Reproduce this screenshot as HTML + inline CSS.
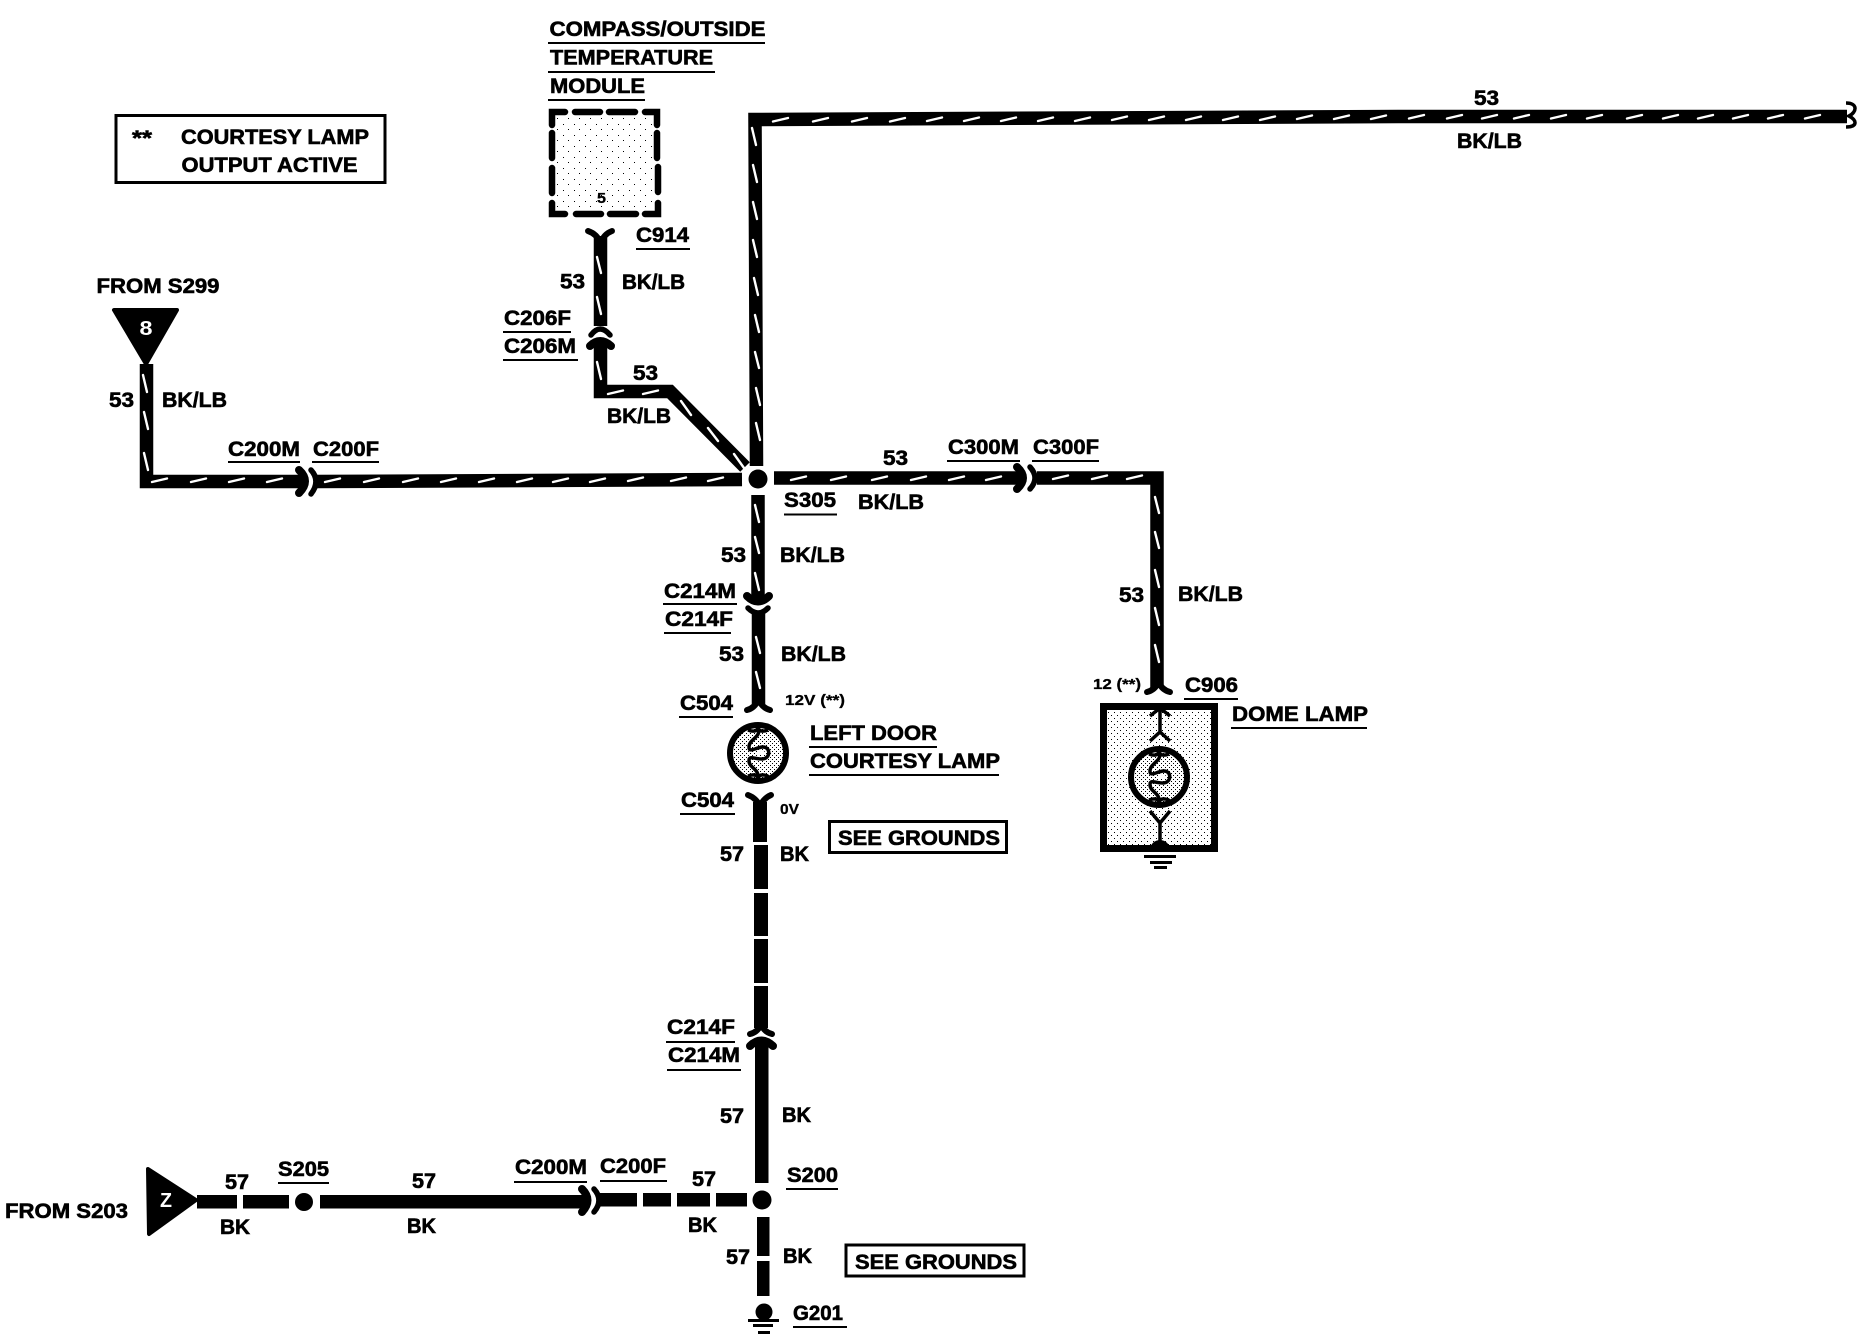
<!DOCTYPE html>
<html lang="en">
<head>
<meta charset="utf-8">
<title>Courtesy lamp wiring diagram</title>
<style>
html,body{margin:0;padding:0;background:#fff;width:1862px;height:1344px;overflow:hidden}
svg{display:block}
text{font-family:"Liberation Sans",Arial,sans-serif;font-weight:700;font-size:21px;fill:#000;stroke:#000;stroke-width:.6px}
.s{font-size:15px;stroke-width:.3px}
.w{fill:#fff;font-size:20px;stroke:none}
</style>
</head>
<body>
<svg xmlns="http://www.w3.org/2000/svg" width="1862" height="1344" viewBox="0 0 1862 1344">
<defs>
<pattern id="sp" width="6" height="6" patternUnits="userSpaceOnUse">
<rect width="6" height="6" fill="#fff"/>
<rect x="1" y="1" width="1" height="1" fill="#000"/>
<rect x="4" y="4" width="1" height="1" fill="#000"/>
</pattern>
<pattern id="sd" width="4" height="4" patternUnits="userSpaceOnUse">
<rect width="4" height="4" fill="#fff"/>
<rect x="0" y="0" width="1" height="1" fill="#000"/>
<rect x="2" y="2" width="1" height="1" fill="#000"/>
</pattern>
<pattern id="sl" width="11" height="11" patternUnits="userSpaceOnUse">
<rect width="11" height="11" fill="#fff"/>
<rect x="2" y="3" width="1" height="1" fill="#000"/>
<rect x="7" y="8" width="1" height="1" fill="#000"/>
</pattern>
<g id="lamp">
<circle r="28" fill="url(#sd)" stroke="#000" stroke-width="6"/>
<path d="M0 -25C4 -16 -9 -14 -9 -6C-9 0 -3 -5 4 -6C13 -7 13 6 4 6C-4 6 -9 2 -9 8C-9 15 2 16 0 26" fill="none" stroke="#000" stroke-width="3.5"/>
<ellipse cx="3" cy="0" rx="5" ry="2" fill="#fff"/>
<path d="M-10 -23Q-2 -20 0 -25Q2 -20 10 -23M-10 23Q-2 20 0 25Q2 20 10 23" fill="none" stroke="#000" stroke-width="3.5"/>
</g>
</defs>

<!-- legend -->
<rect x="116" y="115.5" width="269" height="67" fill="#fff" stroke="#000" stroke-width="3"/>

<!-- module -->
<rect x="555" y="115" width="100" height="97" fill="url(#sl)"/>
<path d="M552 125V112H565M575 112H600M609 112H635M645 112H657V125M552 133V158M552 168V193M657 133V158M658 167V192M552 203V214H565M576 214H601M610 214H636M645 214H658V203" fill="none" stroke="#000" stroke-width="6.5" stroke-linecap="round"/>

<!-- wires BK/LB -->
<g fill="none" stroke="#000" stroke-width="13.5">
<path d="M756.5 466L755 119.5 1400 116.5H1847" stroke-miterlimit="10"/>
<path d="M600.5 236V326"/>
<path d="M600.5 340V391.5H670L745 467" stroke-miterlimit="10"/>
<path d="M146.5 364V481.5H305"/>
<path d="M316 481.5L742 479.5"/>
<path d="M774 478H1023"/>
<path d="M1037 478H1157V688" stroke-miterlimit="10"/>
<path d="M758 495V602"/>
<path d="M758.5 612V704"/>
</g>

<!-- white tracers -->
<path fill="none" stroke="#fff" stroke-width="2.4" stroke-linecap="round" d="
M773 121.5l15 -3.5M813 121.5l15 -3.5M852 121.5l15 -3.5M890 121.5l15 -3.5M927 121l15 -3.5M964 121l15 -3.5M1001 121l15 -3.5M1038 121l15 -3.5M1075 121l15 -3.5M1112 120l15 -3.5M1149 120l15 -3.5M1186 120l15 -3.5M1223 120l15 -3.5M1260 120l15 -3.5M1297 119l15 -3.5M1334 119l15 -3.5M1371 119l15 -3.5M1409 118.5l15 -3.5M1447 118.5l15 -3.5M1482 118.5l15 -3.5M1514 118.5l15 -3.5M1551 118.5l15 -3.5M1587 118.5l15 -3.5M1627 118.5l15 -3.5M1663 118.5l15 -3.5M1698 118.5l15 -3.5M1733 118.5l15 -3.5M1768 118.5l15 -3.5M1805 118.5l15 -3.5
M752 128l4 17M753 165l4 17M753 202l4 17M753 240l4 17M754 278l4 17M755 315l4 17M755 352l4 16M756 388l4 17M756 423l4 17
M597 257l4 16M597 297l4 17M597 362l4 17
M608 394l15 -3.5M643 394l15 -3.5
M681 401l10 14M708 428l10 13M734 454l10 14
M143 375l4 17M144 412l4 17M144 453l4 17
M152 482l15 -3.5M191 482l15 -3.5M229 482l15 -3.5M267 482l15 -3.5
M325 482l15 -3.5M364 482l15 -3.5M403 482l15 -3.5M441 482l15 -3.5M479 482l15 -3.5M517 482l15 -3.5M553 482l15 -3.5M590 482l15 -3.5M628 481l15 -3.5M671 481l15 -3.5M708 481l15 -3.5
M791 480l15 -3.5M831 480l15 -3.5M872 480l15 -3.5M911 480l15 -3.5M949 480l15 -3.5M986 480l15 -3.5
M1053 479l15 -3.5M1092 479l15 -3.5M1127 479l15 -3.5
M1155 497l4 16M1155 532l4 16M1155 570l4 17M1155 608l4 17M1155 645l4 17
M755 505l4 17M755 537l4 16M755 573l4 17M756 637l4 16M756 672l4 16"/>

<!-- break symbol -->
<path d="M1846 103C1858 103 1857 112 1849 116C1857 120 1858 127 1846 127" fill="none" stroke="#000" stroke-width="3.5"/>

<!-- connectors -->
<g fill="none" stroke="#000" stroke-linecap="round" stroke-linejoin="round">
<!-- C914 -->
<path d="M588 231Q597 234 600.5 243Q604 234 612 231" stroke-width="6"/>
<!-- C206 -->
<path d="M591 335Q600 323 610 335" stroke-width="5.5"/>
<path d="M590 346Q600 336 611 346" stroke-width="8"/>
<!-- C200 upper -->
<path d="M299 470Q311 481 299 493" stroke-width="8"/>
<path d="M311 470Q321 481 311 494" stroke-width="5.5"/>
<!-- C300 -->
<path d="M1017 467Q1029 478 1017 489" stroke-width="8"/>
<path d="M1030 467Q1040 478 1030 489" stroke-width="5.5"/>
<!-- C214 upper -->
<path d="M747 596Q758 607 769 596" stroke-width="8"/>
<path d="M748 608Q758 618 768 608" stroke-width="5.5"/>
<!-- C504 top -->
<path d="M747 710Q755 708 758.5 699Q762 708 770 710" stroke-width="6"/>
<!-- C504 bottom -->
<path d="M748 795Q756 798 760 806Q764 798 771 795" stroke-width="6"/>
<!-- C906 -->
<path d="M1147 692Q1155 690 1158.5 682Q1162 690 1170 692" stroke-width="6"/>
<!-- C214 lower -->
<path d="M750 1034Q758 1032 761 1024Q764 1032 772 1034" stroke-width="6"/>
<path d="M750 1046Q761 1035 773 1046" stroke-width="8"/>
<!-- C200 lower -->
<path d="M582 1189Q593 1200 582 1212" stroke-width="8"/>
<path d="M594 1189Q604 1200 594 1212" stroke-width="5.5"/>
</g>

<!-- splices -->
<circle cx="758" cy="479" r="9.5"/>
<circle cx="762" cy="1200" r="9.5"/>
<circle cx="304" cy="1202" r="9"/>

<!-- left door lamp -->
<use href="#lamp" x="758" y="753"/>

<!-- BK wires -->
<g fill="#000">
<rect x="753" y="802" width="14" height="40"/>
<rect x="754" y="845" width="14" height="44"/>
<rect x="754" y="893" width="14" height="43"/>
<rect x="754" y="939" width="14" height="44"/>
<rect x="754" y="986" width="14" height="42"/>
<rect x="755" y="1040" width="13.5" height="143"/>
<rect x="757" y="1217" width="12.5" height="39"/>
<rect x="757" y="1261" width="12.5" height="35"/>
<rect x="197" y="1195" width="40" height="13.5"/>
<rect x="243" y="1195" width="46" height="13.5"/>
<rect x="320" y="1195" width="267" height="13.5"/>
<rect x="600" y="1193" width="37" height="13.5"/>
<rect x="643" y="1193" width="28" height="13.5"/>
<rect x="677" y="1193" width="33" height="13.5"/>
<rect x="716" y="1193" width="31" height="13.5"/>
<!-- ground G201 -->
<circle cx="764" cy="1312" r="8.5"/>
<rect x="748" y="1319" width="31" height="3"/>
<rect x="753" y="1324" width="20" height="3"/>
<rect x="758" y="1331" width="12" height="3"/>
</g>

<!-- dome lamp -->
<rect x="1103.5" y="706.5" width="111" height="142" fill="url(#sp)" stroke="#000" stroke-width="7"/>
<g fill="none" stroke="#000" stroke-width="3.5">
<path d="M1150 716L1160 708 1170 716M1160 708V732M1150 741L1160 732 1170 741"/>
<path d="M1150 811L1160 823 1170 811M1160 823V842"/>
</g>
<use href="#lamp" x="1159" y="777"/>
<g fill="#000">
<path d="M1150 850a10 10 0 0 1 20 0z"/>
<rect x="1144" y="855" width="32" height="3"/>
<rect x="1150" y="861" width="22" height="3"/>
<rect x="1154" y="866" width="13" height="3"/>
</g>

<!-- triangles -->
<path d="M114 310H177L146 364Z" fill="#000" stroke="#000" stroke-width="4" stroke-linejoin="round"/>
<path d="M148 1169L196 1200 149 1234Z" fill="#000" stroke="#000" stroke-width="4" stroke-linejoin="round"/>
<text class="w" x="139.5" y="335" textLength="13" lengthAdjust="spacingAndGlyphs">8</text>
<text class="w" x="160" y="1207" textLength="12" lengthAdjust="spacingAndGlyphs">Z</text>

<!-- see grounds boxes -->
<rect x="829.5" y="821.5" width="177" height="31" fill="#fff" stroke="#000" stroke-width="3"/>
<rect x="849" y="1245" width="178" height="31" fill="#fff" stroke="#000" stroke-width="3" transform="translate(-3 0)"/>

<!-- underlines -->
<path fill="none" stroke="#000" stroke-width="2" d="M548 43H765M548 72H715M548 100H645M636 249H690M503 332H571M503 360H578M228 462H300M312 462H379M784 514.5H837M947 461H1020M1032 461H1099M663 604H737M664 633H731M679 717H733M809 747H937M809 775H999M680 814H735M1184 699H1238M1231 728H1367M666 1042H735M667 1070H741M278 1183H329M514 1182H587M600 1181H667M786 1189H838M793 1327H847"/>

<!-- labels -->
<text x="549.5" y="36" textLength="216" lengthAdjust="spacingAndGlyphs">COMPASS/OUTSIDE</text>
<text x="550" y="64.5" textLength="163" lengthAdjust="spacingAndGlyphs">TEMPERATURE</text>
<text x="550" y="93" textLength="95" lengthAdjust="spacingAndGlyphs">MODULE</text>
<text class="s" x="597" y="203" textLength="9" lengthAdjust="spacingAndGlyphs">5</text>
<text x="132" y="145" textLength="20" lengthAdjust="spacingAndGlyphs">**</text>
<text x="181" y="144" textLength="188" lengthAdjust="spacingAndGlyphs">COURTESY LAMP</text>
<text x="181.5" y="172" textLength="176" lengthAdjust="spacingAndGlyphs">OUTPUT ACTIVE</text>
<text x="96.5" y="293" textLength="123" lengthAdjust="spacingAndGlyphs">FROM S299</text>
<text x="636" y="242" textLength="53" lengthAdjust="spacingAndGlyphs">C914</text>
<text x="560" y="288.5" textLength="25" lengthAdjust="spacingAndGlyphs">53</text>
<text x="622" y="289" textLength="63" lengthAdjust="spacingAndGlyphs">BK/LB</text>
<text x="504" y="325" textLength="67" lengthAdjust="spacingAndGlyphs">C206F</text>
<text x="504" y="353" textLength="72" lengthAdjust="spacingAndGlyphs">C206M</text>
<text x="633" y="380" textLength="25" lengthAdjust="spacingAndGlyphs">53</text>
<text x="607" y="423" textLength="64" lengthAdjust="spacingAndGlyphs">BK/LB</text>
<text x="109" y="407" textLength="25" lengthAdjust="spacingAndGlyphs">53</text>
<text x="162" y="407" textLength="65" lengthAdjust="spacingAndGlyphs">BK/LB</text>
<text x="228" y="456" textLength="72" lengthAdjust="spacingAndGlyphs">C200M</text>
<text x="313" y="456" textLength="66" lengthAdjust="spacingAndGlyphs">C200F</text>
<text x="1474" y="105" textLength="25" lengthAdjust="spacingAndGlyphs">53</text>
<text x="1459" y="148" textLength="65" lengthAdjust="spacingAndGlyphs" transform="translate(-2 0)">BK/LB</text>
<text x="784" y="507" textLength="52" lengthAdjust="spacingAndGlyphs">S305</text>
<text x="858" y="509" textLength="66" lengthAdjust="spacingAndGlyphs">BK/LB</text>
<text x="883" y="465" textLength="25" lengthAdjust="spacingAndGlyphs">53</text>
<text x="948" y="454" textLength="71" lengthAdjust="spacingAndGlyphs">C300M</text>
<text x="1033" y="454" textLength="66" lengthAdjust="spacingAndGlyphs">C300F</text>
<text x="1119" y="602" textLength="25" lengthAdjust="spacingAndGlyphs">53</text>
<text x="1178" y="601" textLength="65" lengthAdjust="spacingAndGlyphs">BK/LB</text>
<text x="721" y="562" textLength="25" lengthAdjust="spacingAndGlyphs">53</text>
<text x="780" y="562" textLength="65" lengthAdjust="spacingAndGlyphs">BK/LB</text>
<text x="664" y="598" textLength="72" lengthAdjust="spacingAndGlyphs">C214M</text>
<text x="665" y="626" textLength="68" lengthAdjust="spacingAndGlyphs">C214F</text>
<text x="719" y="661" textLength="25" lengthAdjust="spacingAndGlyphs">53</text>
<text x="781" y="661" textLength="65" lengthAdjust="spacingAndGlyphs">BK/LB</text>
<text x="680" y="710" textLength="53" lengthAdjust="spacingAndGlyphs">C504</text>
<text class="s" x="785" y="705" textLength="60" lengthAdjust="spacingAndGlyphs">12V (**)</text>
<text x="810" y="740" textLength="127" lengthAdjust="spacingAndGlyphs">LEFT DOOR</text>
<text x="810" y="768" textLength="190" lengthAdjust="spacingAndGlyphs">COURTESY LAMP</text>
<text x="681" y="807" textLength="53" lengthAdjust="spacingAndGlyphs">C504</text>
<text class="s" x="780" y="814" textLength="19" lengthAdjust="spacingAndGlyphs">0V</text>
<text x="838" y="845" textLength="162" lengthAdjust="spacingAndGlyphs">SEE GROUNDS</text>
<text x="720" y="861" textLength="24" lengthAdjust="spacingAndGlyphs">57</text>
<text x="780" y="861" textLength="29" lengthAdjust="spacingAndGlyphs">BK</text>
<text class="s" x="1093" y="689" textLength="48" lengthAdjust="spacingAndGlyphs">12 (**)</text>
<text x="1185" y="692" textLength="53" lengthAdjust="spacingAndGlyphs">C906</text>
<text x="1232" y="721" textLength="136" lengthAdjust="spacingAndGlyphs">DOME LAMP</text>
<text x="667" y="1034" textLength="68" lengthAdjust="spacingAndGlyphs">C214F</text>
<text x="668" y="1062" textLength="72" lengthAdjust="spacingAndGlyphs">C214M</text>
<text x="720" y="1123" textLength="24" lengthAdjust="spacingAndGlyphs">57</text>
<text x="782" y="1122" textLength="29" lengthAdjust="spacingAndGlyphs">BK</text>
<text x="5" y="1218" textLength="123" lengthAdjust="spacingAndGlyphs">FROM S203</text>
<text x="225" y="1189" textLength="24" lengthAdjust="spacingAndGlyphs">57</text>
<text x="220" y="1234" textLength="30" lengthAdjust="spacingAndGlyphs">BK</text>
<text x="278" y="1176" textLength="51" lengthAdjust="spacingAndGlyphs">S205</text>
<text x="412" y="1188" textLength="24" lengthAdjust="spacingAndGlyphs">57</text>
<text x="407" y="1233" textLength="29" lengthAdjust="spacingAndGlyphs">BK</text>
<text x="515" y="1174" textLength="72" lengthAdjust="spacingAndGlyphs">C200M</text>
<text x="600" y="1173" textLength="66" lengthAdjust="spacingAndGlyphs">C200F</text>
<text x="692" y="1186" textLength="24" lengthAdjust="spacingAndGlyphs">57</text>
<text x="688" y="1232" textLength="29" lengthAdjust="spacingAndGlyphs">BK</text>
<text x="787" y="1182" textLength="51" lengthAdjust="spacingAndGlyphs">S200</text>
<text x="726" y="1264" textLength="24" lengthAdjust="spacingAndGlyphs">57</text>
<text x="783" y="1263" textLength="29" lengthAdjust="spacingAndGlyphs">BK</text>
<text x="855" y="1269" textLength="162" lengthAdjust="spacingAndGlyphs">SEE GROUNDS</text>
<text x="793" y="1320" textLength="50" lengthAdjust="spacingAndGlyphs">G201</text>
</svg>
</body>
</html>
